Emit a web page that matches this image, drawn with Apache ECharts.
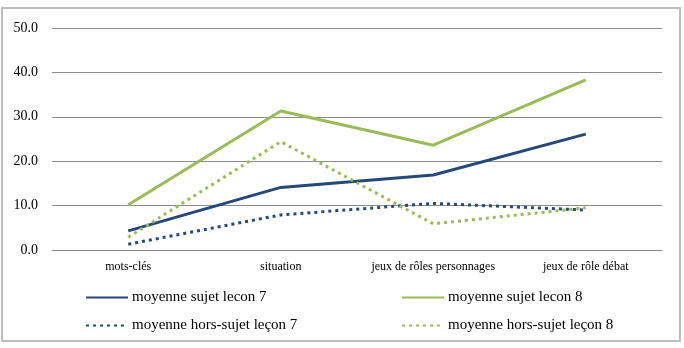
<!DOCTYPE html>
<html>
<head>
<meta charset="utf-8">
<script src="https://cdn.jsdelivr.net/npm/echarts@6/dist/echarts.min.js"></script>
<style>
  html, body { margin: 0; padding: 0; background: #fff; }
  #chart { width: 684px; height: 348px; }
</style>
</head>
<body>
<div id="chart"></div>
<script>
// catégories et valeurs
var categories = ['mots-clés', 'situation', 'jeux de rôles personnages', 'jeux de rôle débat'];
var sujet7 = [4.3, 14.1, 16.9, 26.1];
var sujet8 = [10.2, 31.3, 23.6, 38.3];
var horsSujet7 = [1.3, 7.9, 10.5, 9.0];
var horsSujet8 = [2.9, 24.4, 5.9, 9.5];
var seriesNames = ['moyenne sujet lecon 7', 'moyenne sujet lecon 8', 'moyenne hors-sujet leçon 7', 'moyenne hors-sujet leçon 8'];

var blue = '#24497A';
var green = '#9BBB59';
var font = '"Liberation Serif", "DejaVu Serif", serif';

function legendAt(name, left, top) {
    return {
        data: [name],
        left: left,
        top: top,
        padding: 0,
        itemWidth: 42,
        itemHeight: 10,
        itemGap: 4,
        itemStyle: { color: 'transparent', borderColor: 'transparent', borderWidth: 0 },
        textStyle: { fontFamily: font, fontSize: 15, color: '#000', padding: [0, 0, 0, -1] }
    };
}

function makeLine(name, data, color, dotted) {
    return {
        name: name,
        type: 'line',
        data: data,
        symbol: 'none',
        smooth: false,
        itemStyle: { color: color },
        lineStyle: { color: color, width: 3, type: dotted ? [3, 4] : 'solid' }
    };
}

var myChart = echarts.init(document.getElementById('chart'));
myChart.setOption({
    animation: false,
    graphic: [{
        type: 'rect',
        shape: { x: 2, y: 8, width: 678, height: 333 },
        style: { fill: 'none', stroke: '#BDBDBD', lineWidth: 2 }
    }],
    grid: { left: 52, right: 22, top: 28, bottom: 98 },
    legend: [
        legendAt(seriesNames[0], 85, 290),
        legendAt(seriesNames[1], 401, 290),
        legendAt(seriesNames[2], 85, 318),
        legendAt(seriesNames[3], 401, 318)
    ],
    xAxis: {
        type: 'category',
        data: categories,
        boundaryGap: true,
        axisTick: { show: false },
        axisLine: { lineStyle: { color: '#8C8C8C', width: 1 } },
        axisLabel: { fontFamily: font, fontSize: 12, color: '#000', margin: 11, interval: 0 }
    },
    yAxis: {
        type: 'value',
        min: 0,
        max: 50,
        interval: 10,
        axisLine: { show: false },
        axisTick: { show: false },
        splitLine: { lineStyle: { color: '#8C8C8C', width: 1 } },
        axisLabel: {
            fontFamily: font, fontSize: 14, color: '#000', margin: 14,
            formatter: function (v) { return v.toFixed(1); }
        }
    },
    series: [
        makeLine(seriesNames[0], sujet7, blue, false),
        makeLine(seriesNames[1], sujet8, green, false),
        makeLine(seriesNames[2], horsSujet7, blue, true),
        makeLine(seriesNames[3], horsSujet8, green, true)
    ]
});
</script>
</body>
</html>
